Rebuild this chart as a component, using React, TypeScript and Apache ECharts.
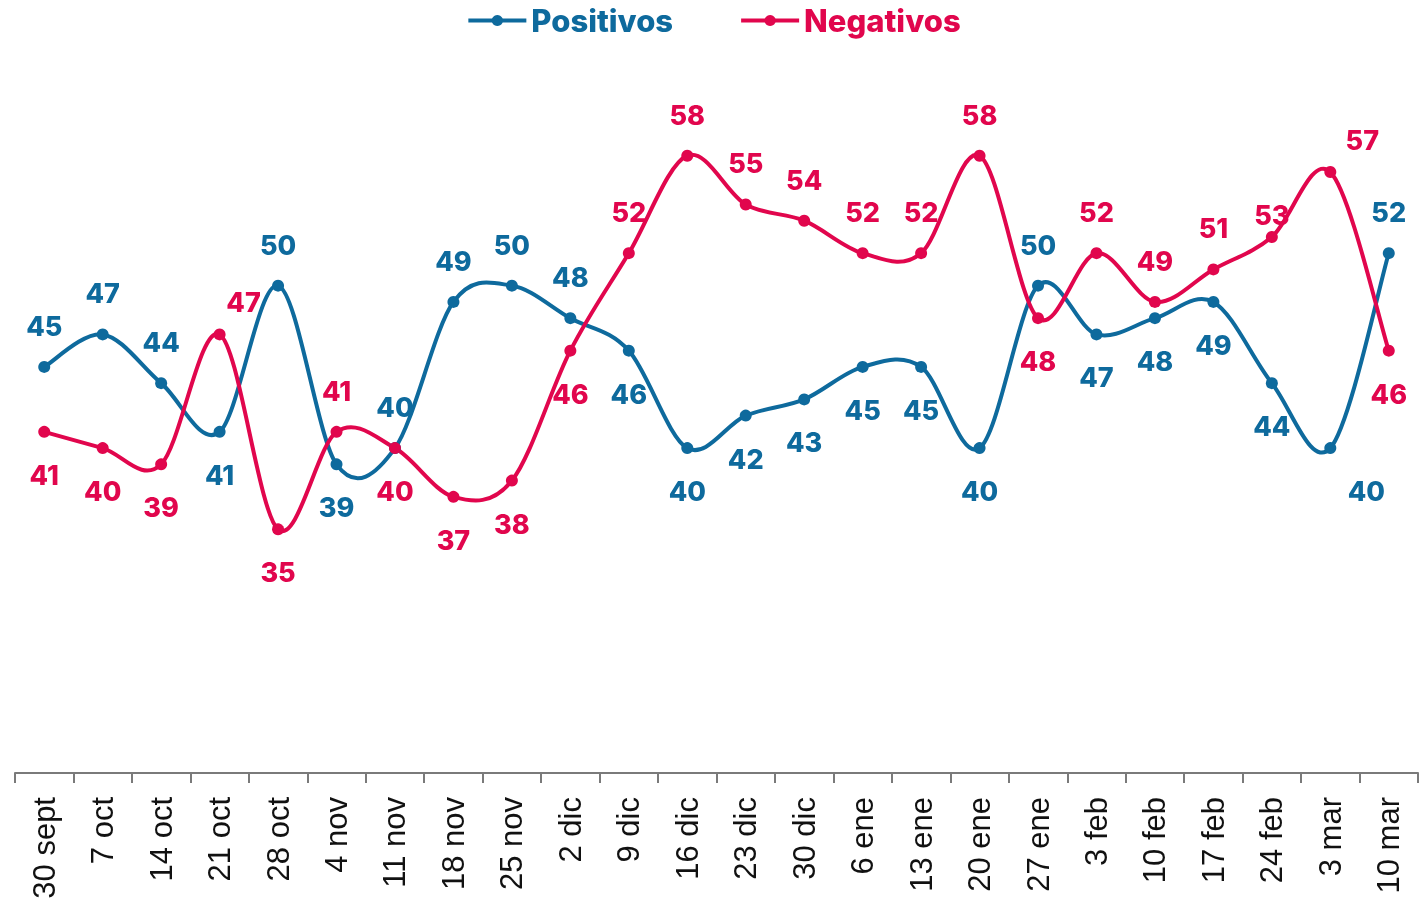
import React, { useEffect, useRef } from "react";
import * as echarts from "echarts";

const categories = [
  "30 sept", "7 oct", "14 oct", "21 oct", "28 oct", "4 nov", "11 nov", "18 nov",
  "25 nov", "2 dic", "9 dic", "16 dic", "23 dic", "30 dic", "6 ene", "13 ene",
  "20 ene", "27 ene", "3 feb", "10 feb", "17 feb", "24 feb", "3 mar", "10 mar",
];
const positivos = [45, 47, 44, 41, 50, 39, 40, 49, 50, 48, 46, 40, 42, 43, 45, 45, 40, 50, 47, 48, 49, 44, 40, 52];
const negativos = [41, 40, 39, 47, 35, 41, 40, 37, 38, 46, 52, 58, 55, 54, 52, 52, 58, 48, 52, 49, 51, 53, 57, 46];
// label placement per point: t = top, b = bottom
const posLabelPos = ["t","t","t","b","t","b","t","t","t","t","b","b","b","b","b","b","b","t","b","b","b","b","b","t"];
const negLabelPos = ["b","b","b","t","b","t","b","b","b","b","t","t","t","t","t","t","t","b","t","t","t","t","t","b"];

const BLUE = "#0E6A9D";
const RED = "#E1064D";

function buildData(vals: number[], pos: string[], color: string, specials: Record<number, number[]>) {
  return vals.map((v, i) => ({
    value: v,
    label: {
      position: pos[i] === "t" ? "top" : "bottom",
      offset: specials[i] || (pos[i] === "t" ? [0, -1] : [0, 4]),
      color,
    },
  }));
}

function splineSeries(name: string, vals: number[], color: string) {
  return {
    name: name + "-curve",
    type: "custom",
    z: 2,
    silent: true,
    data: [0],
    renderItem: (_params: any, api: any) => {
      const pts = vals.map((v, i) => api.coord([i, v]));
      let d = `M${pts[0][0]},${pts[0][1]}`;
      for (let i = 0; i < pts.length - 1; i++) {
        const p0 = pts[i - 1] || pts[i];
        const p1 = pts[i];
        const p2 = pts[i + 1];
        const p3 = pts[i + 2] || pts[i + 1];
        const c1x = p1[0] + (p2[0] - p0[0]) / 6;
        const c1y = p1[1] + (p2[1] - p0[1]) / 6;
        const c2x = p2[0] - (p3[0] - p1[0]) / 6;
        const c2y = p2[1] - (p3[1] - p1[1]) / 6;
        d += ` C${c1x},${c1y} ${c2x},${c2y} ${p2[0]},${p2[1]}`;
      }
      return {
        type: "path",
        shape: { pathData: d },
        style: { stroke: color, lineWidth: 4, fill: "none", lineJoin: "round", lineCap: "round" },
      };
    },
  };
}

export default function App() {
  const ref = useRef<HTMLDivElement>(null);
  useEffect(() => {
    const chart = echarts.init(ref.current!, null, { renderer: "svg" });
    const labelFont = { fontFamily: "Inter", fontWeight: 800, fontSize: 27 };
    chart.setOption({
      animation: false,
      legend: {
        top: 0,
        left: "center",
        itemWidth: 58,
        itemHeight: 14,
        itemGap: 66,
        textStyle: { fontFamily: "Inter", fontWeight: 800, fontSize: 31 },
        data: [
          { name: "Positivos", textStyle: { color: BLUE }, lineStyle: { width: 4, color: BLUE, opacity: 1 } },
          { name: "Negativos", textStyle: { color: RED }, lineStyle: { width: 4, color: RED, opacity: 1 } },
        ],
      },
      grid: { left: 15, right: 9, top: 42, bottom: 131 },
      xAxis: {
        type: "category",
        data: categories,
        axisLine: { lineStyle: { color: "#7a7a7a", width: 2 } },
        axisTick: { show: true, length: 10, lineStyle: { color: "#7a7a7a", width: 2 } },
        axisLabel: {
          rotate: 90,
          fontFamily: "Liberation Sans",
          fontSize: 31,
          color: "#111",
          margin: 24,
        },
      },
      yAxis: { type: "value", min: 20, max: 65, show: false, splitLine: { show: false } },
      series: [
        splineSeries("Positivos", positivos, BLUE),
        splineSeries("Negativos", negativos, RED),
        {
          name: "Positivos",
          type: "line",
          z: 3,
          symbol: "circle",
          symbolSize: 12,
          lineStyle: { width: 4, color: BLUE, opacity: 0 },
          itemStyle: { color: BLUE },
          label: { show: true, distance: 20, ...labelFont },
          data: buildData(positivos, posLabelPos, BLUE, { 22: [36, 4] }),
        },
        {
          name: "Negativos",
          type: "line",
          z: 3,
          symbol: "circle",
          symbolSize: 12,
          lineStyle: { width: 4, color: RED, opacity: 0 },
          itemStyle: { color: RED },
          label: { show: true, distance: 20, ...labelFont },
          data: buildData(negativos, negLabelPos, RED, { 3: [24, 8], 22: [32, 8], 21: [0, 18] }),
        },
      ],
    });
    return () => chart.dispose();
  }, []);
  return <div ref={ref} style={{ position: "fixed", left: 0, top: 0, width: 1427, height: 904 }} />;
}
